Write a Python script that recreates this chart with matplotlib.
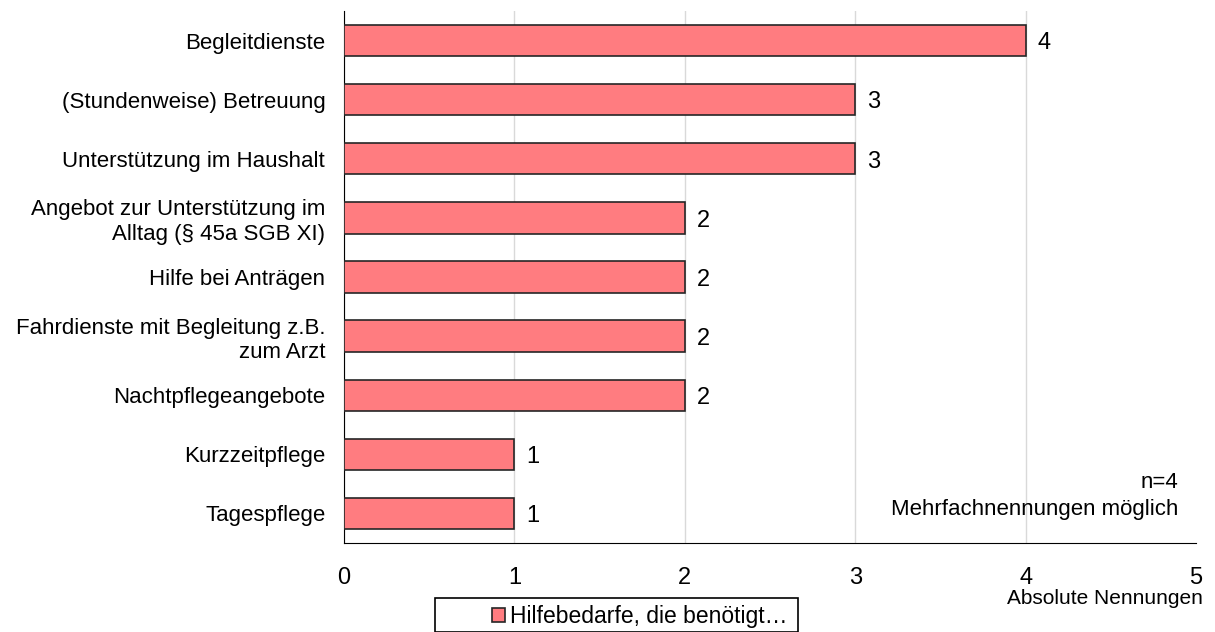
import matplotlib.pyplot as plt
from matplotlib.patches import Rectangle

plt.rcParams["font.family"] = ["Liberation Sans", "DejaVu Sans"]

categories = [
    "Begleitdienste",
    "(Stundenweise) Betreuung",
    "Unterstützung im Haushalt",
    "Angebot zur Unterstützung im\nAlltag (§ 45a SGB XI)",
    "Hilfe bei Anträgen",
    "Fahrdienste mit Begleitung z.B.\nzum Arzt",
    "Nachtpflegeangebote",
    "Kurzzeitpflege",
    "Tagespflege",
]
values = [4, 3, 3, 2, 2, 2, 2, 1, 1]
x_ticks = [0, 1, 2, 3, 4, 5]
series_name = "Hilfebedarfe, die benötigt…"

W, H = 1215, 632
fig = plt.figure(figsize=(W / 100, H / 100), dpi=100)
ax = fig.add_axes([344 / W, 1 - 543 / H, (1196 - 344) / W, (543 - 11) / H])

pos = list(range(len(categories)))
bars = ax.barh(
    pos,
    values,
    height=0.53,
    color="#FF7C80",
    edgecolor="#262626",
    linewidth=1.2,
    label=series_name,
    zorder=3
)
ax.set_ylim(len(categories) - 0.5, -0.5)
ax.set_xlim(0, 5)

ax.set_yticks(pos)
ax.set_yticklabels(categories, fontsize=16, linespacing=1.2)
ax.set_xticks(x_ticks)
ax.set_xticklabels([str(t) for t in x_ticks], fontsize=17)
ax.tick_params(axis="both", length=0)
ax.tick_params(axis="x", pad=17)
ax.tick_params(axis="y", pad=13.5)

ax.grid(axis="x", color="#d9d9d9", linewidth=1, zorder=0)
ax.get_xgridlines()[-1].set_visible(False)
for s in ["top", "right"]:
    ax.spines[s].set_visible(False)
ax.spines["left"].set_color("black")
ax.spines["bottom"].set_color("black")

# value labels right of bars
for bar, v in zip(bars, values):
    ax.annotate(
        str(v),
        (bar.get_width(), bar.get_y() + bar.get_height() / 2),
        xytext=(8.5, -2),
        textcoords="offset points",
        va="center",
        ha="left",
        fontsize=17
    )

fig.text(1203 / W, 1 - 598 / H, "Absolute Nennungen", ha="right", va="center", fontsize=15)
fig.text(1178 / W, 1 - 482 / H, "n=4", ha="right", va="center", fontsize=16)
fig.text(1178 / W, 1 - 509 / H, "Mehrfachnennungen möglich", ha="right", va="center", fontsize=16)

# legend box is wider than its content, like the original
fig.add_artist(Rectangle(
    (435 / W, 0), (798 - 435) / W, (H - 598) / H,
    transform=fig.transFigure, facecolor="white", edgecolor="black",
    linewidth=1.2, clip_on=False
))
leg = fig.legend(
    loc="center",
    bbox_to_anchor=(640 / W, 1 - 617 / H),
    fontsize=16.5,
    frameon=False,
    handlelength=0.55,
    handleheight=0.55,
    handletextpad=0.25,
    borderpad=0,
)

fig.savefig("out.png", dpi=100)
